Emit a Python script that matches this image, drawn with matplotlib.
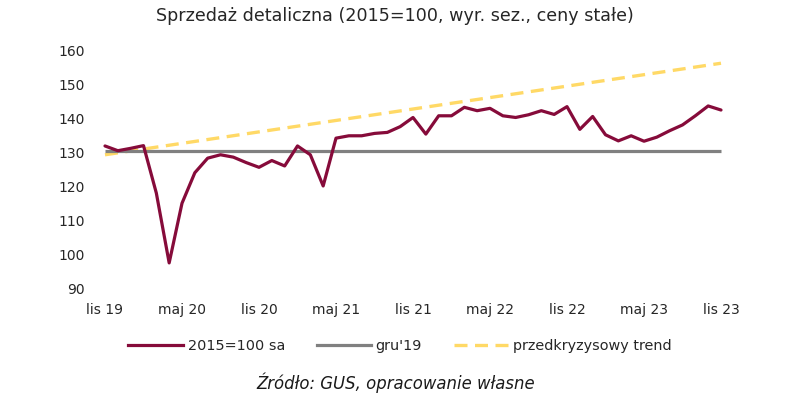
import matplotlib
matplotlib.use("Agg")
import matplotlib.pyplot as plt
from matplotlib.lines import Line2D

# ---- data ----
months = list(range(49))  # lis 19 .. lis 23 (monthly)
sales = [131.9, 130.5, 131.2, 132.0, 118.0, 97.4, 115.0, 124.0, 128.3, 129.3,
         128.6, 127.0, 125.6, 127.6, 126.0, 131.9, 129.3, 120.1, 134.2, 134.9,
         134.9, 135.6, 135.9, 137.6, 140.3, 135.4, 140.8, 140.8, 143.3, 142.3,
         143.0, 140.8, 140.3, 141.1, 142.3, 141.2, 143.5, 136.8, 140.6, 135.2,
         133.4, 134.9, 133.3, 134.5, 136.4, 138.1, 140.8, 143.7, 142.5]
dec19_x = [0, 48]
dec19 = [130.5, 130.5]
trend_x = [0, 48]
trend = [129.3, 156.3]
tick_pos = [0, 6, 12, 18, 24, 30, 36, 42, 48]
tick_labels = ["lis 19", "maj 20", "lis 20", "maj 21", "lis 21",
               "maj 22", "lis 22", "maj 23", "lis 23"]
y_ticks = [90, 100, 110, 120, 130, 140, 150, 160]
series_names = ["2015=100 sa", "gru'19", "przedkryzysowy trend"]

c_main = "#860B3A"
c_gray = "#808080"
c_trend = "#FFD966"
dash = (3.9, 2.25)

plt.rcParams['font.family'] = ['DejaVu Sans']
fig = plt.figure(figsize=(8.03, 4.11), dpi=100)
W, H = 803, 411
# axes: x pixels 90..735, y pixels 50.7..288
ax = fig.add_axes([90 / W, 1 - 288 / H, (735 - 90) / W, (288 - 50.7) / H])

px_per_month = (721 - 105) / 48.0
ax.set_xlim(0 - (105 - 90) / px_per_month, 48 + (735 - 721) / px_per_month)
ax.set_ylim(90, 160)

ax.plot(trend_x, trend, color=c_trend, lw=2.4, dashes=dash, dash_capstyle='butt', zorder=2)
ax.plot(dec19_x, dec19, color=c_gray, lw=2.3, zorder=3, solid_capstyle='butt')
ax.plot(months, sales, color=c_main, lw=2.3, zorder=4, solid_joinstyle='round',
        solid_capstyle='round')

for s in ax.spines.values():
    s.set_visible(False)
ax.set_xticks(tick_pos)
ax.set_xticklabels(tick_labels)
ax.set_yticks(y_ticks)
ax.tick_params(axis='both', length=0, labelsize=10, colors='#262626')
ax.tick_params(axis='y', pad=4)
ax.tick_params(axis='x', pad=11)

fig.text(395 / W, 1 - 16 / H, "Sprzedaż detaliczna (2015=100, wyr. sez., ceny stałe)",
         ha='center', va='center', fontsize=12.6, color='#262626')

handles = [Line2D([], [], color=c_main, lw=2.3),
           Line2D([], [], color=c_gray, lw=2.3),
           Line2D([], [], color=c_trend, lw=2.4, dashes=dash, dash_capstyle='butt')]
fig.legend(handles, series_names, loc='center', bbox_to_anchor=(400 / W, 1 - 346 / H),
           ncol=3, frameon=False, fontsize=10.4, handlelength=3.74, handletextpad=0.35,
           columnspacing=2.2, labelcolor='#262626')

fig.text(396 / W, 1 - 383 / H, "Źródło: GUS, opracowanie własne", ha='center', va='center',
         fontsize=11.9, style='italic', color='#1a1a1a')

fig.savefig("out.png", dpi=100)
